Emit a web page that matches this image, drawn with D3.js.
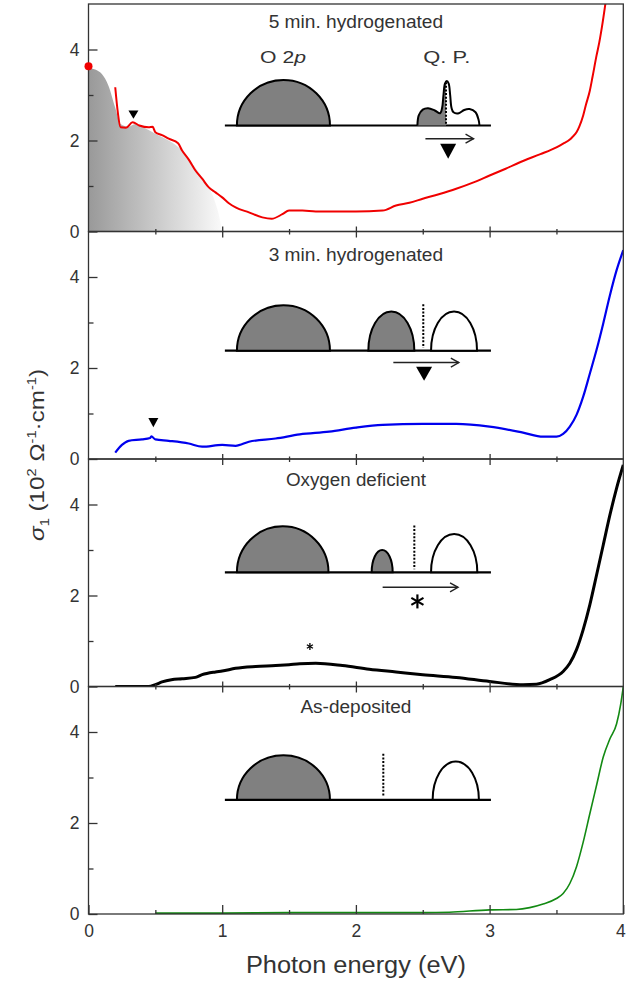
<!DOCTYPE html>
<html><head><meta charset="utf-8">
<script src="https://cdn.jsdelivr.net/npm/d3@7"></script>
<style>body{margin:0;background:#fff}svg{display:block}</style>
</head><body><svg id="c" width="626" height="983"></svg>
<script>
// ---------------- data ----------------
const panelTitles = ["5 min. hydrogenated", "3 min. hydrogenated", "Oxygen deficient", "As-deposited"];
const xTickLabels = [0, 1, 2, 3, 4];
const yTickLabels = [0, 2, 4];

const energy5min = [0.20,0.22,0.24,0.28,0.33,0.38,0.45,0.48,0.50,0.55,0.60,0.67,0.70,0.75,0.80,0.85,0.90,0.95,1.00,1.05,1.10,1.20,1.30,1.37,1.45,1.50,1.60,1.70,1.80,2.00,2.20,2.30,2.40,2.50,2.62,2.75,2.88,3.00,3.12,3.25,3.38,3.50,3.55,3.60,3.62,3.65,3.67,3.70,3.72,3.75,3.77,3.80,3.82,3.84,3.88];
const sigma5min  = [3.17,2.60,2.29,2.28,2.40,2.33,2.29,2.30,2.18,2.12,2.04,1.94,1.78,1.58,1.34,1.16,0.97,0.86,0.75,0.62,0.53,0.42,0.31,0.28,0.38,0.46,0.46,0.44,0.44,0.44,0.46,0.57,0.63,0.72,0.82,0.94,1.08,1.23,1.38,1.55,1.70,1.85,1.93,2.02,2.08,2.18,2.30,2.55,2.78,3.10,3.40,3.87,4.15,4.49,5.30];

const energyDrude = [0.00,0.05,0.10,0.15,0.20,0.24,0.30,0.35,0.40,0.50,0.60,0.70,0.80,0.85,0.90,0.95,0.98,1.00];
const sigmaDrude  = [3.60,3.56,3.46,3.20,2.72,2.36,2.30,2.36,2.30,2.15,2.00,1.78,1.40,1.20,0.97,0.62,0.30,0.00];
const drudeStart = [0.00, 3.63];

const energy3min = [0.20,0.25,0.30,0.40,0.46,0.47,0.50,0.60,0.75,0.85,1.00,1.10,1.20,1.40,1.58,1.80,2.00,2.20,2.50,2.75,3.00,3.25,3.40,3.50,3.55,3.60,3.65,3.70,3.75,3.80,3.85,3.90,3.95,4.00];
const sigma3min  = [0.14,0.31,0.40,0.43,0.46,0.50,0.43,0.40,0.34,0.27,0.31,0.29,0.38,0.45,0.54,0.60,0.69,0.75,0.77,0.77,0.71,0.58,0.49,0.49,0.55,0.71,0.97,1.37,1.88,2.40,2.98,3.60,4.15,4.59];

const energyOxy = [0.20,0.45,0.50,0.55,0.62,0.70,0.80,0.85,0.95,1.00,1.10,1.25,1.40,1.50,1.58,1.70,1.90,2.10,2.30,2.50,2.75,3.00,3.25,3.35,3.45,3.55,3.60,3.65,3.70,3.75,3.80,3.85,3.90,3.95,4.00];
const sigmaOxy  = [0.00,0.00,0.04,0.10,0.15,0.17,0.20,0.26,0.32,0.34,0.40,0.44,0.46,0.48,0.50,0.51,0.46,0.38,0.32,0.26,0.20,0.11,0.04,0.05,0.15,0.33,0.51,0.81,1.25,1.80,2.45,3.11,3.77,4.36,4.87];

const energyAsDep = [0.50,1.00,1.50,2.00,2.50,2.70,3.00,3.20,3.30,3.40,3.50,3.55,3.60,3.65,3.70,3.75,3.80,3.85,3.90,3.95,3.98,4.00];
const sigmaAsDep  = [0.02,0.02,0.03,0.03,0.03,0.04,0.09,0.10,0.14,0.22,0.34,0.45,0.67,1.04,1.58,2.21,2.83,3.45,3.85,4.18,4.60,5.00];

const seriesColors = ["#f00000", "#0000ee", "#000000", "#138a13"];
const seriesWidths = [2, 2.2, 3, 1.6];

// ---------------- layout ----------------
const W = 626, H = 983;
const left = 88.5, right = 623.3;
const panelTops = [4, 231.5, 459, 686.5];
const panelH = 227.5;
const font = "'Liberation Sans', Arial, sans-serif";
const txt = "#333";

const svg = d3.select("#c");
svg.append("rect").attr("width", W).attr("height", H).attr("fill", "#fff");
const defs = svg.append("defs");
const grad = defs.append("linearGradient").attr("id", "drudeGrad").attr("x1", "0%").attr("x2", "100%").attr("y1", "0%").attr("y2", "0%");
grad.append("stop").attr("offset", "0%").attr("stop-color", "#999");
grad.append("stop").attr("offset", "100%").attr("stop-color", "#fafafa");

const x = d3.scaleLinear().domain([0, 4]).range([left, right]);

const seriesE = [energy5min, energy3min, energyOxy, energyAsDep];
const seriesS = [sigma5min, sigma3min, sigmaOxy, sigmaAsDep];

// inset schematic specs (in data units)
const insets = [
  {base: 2.33, bumps: [{x0:1.11,x1:1.806,top:3.33,fill:"#808080"}], dotted:null, arrow:{y:2.04,x0:2.52,x1:2.88}, tri:{x:2.69,top:1.93,bot:1.60}, star:null, qp:true},
  {base: 2.38, bumps: [{x0:1.11,x1:1.806,top:3.38,fill:"#808080"},{x0:2.093,x1:2.437,top:3.24,fill:"#808080"},{x0:2.562,x1:2.906,top:3.24,fill:"#fff"}], dotted:{x:2.504,top:3.40}, arrow:{y:2.12,x0:2.28,x1:2.77}, tri:{x:2.51,top:2.03,bot:1.72}, star:null},
  {base: 2.51, bumps: [{x0:1.11,x1:1.795,top:3.52,fill:"#808080"},{x0:2.118,x1:2.275,top:3.0,fill:"#808080"},{x0:2.562,x1:2.908,top:3.35,fill:"#fff"}], dotted:{x:2.437,top:3.54}, arrow:{y:2.18,x0:2.20,x1:2.764}, tri:null, star:{x:2.46,y:1.87,r:7}},
  {base: 2.51, bumps: [{x0:1.11,x1:1.806,top:3.49,fill:"#808080"},{x0:2.574,x1:2.92,top:3.35,fill:"#fff"}], dotted:{x:2.205,top:3.52}, arrow:null, tri:null, star:null}
];
const qpOutline = [[2.46,2.33],[2.47,2.55],[2.50,2.68],[2.54,2.71],[2.59,2.66],[2.63,2.60],[2.645,2.72],[2.655,3.00],[2.666,3.25],[2.68,3.31],[2.694,3.25],[2.705,3.00],[2.715,2.72],[2.73,2.62],[2.77,2.60],[2.81,2.67],[2.85,2.69],[2.895,2.62],[2.918,2.45],[2.924,2.33]];
const qpSplit = 2.674;
const smallTris = [{panel:0,x:0.336,top:2.66,bot:2.48},{panel:1,x:0.485,top:0.90,bot:0.70}];
const smallStar = {panel:2, x:1.656, y:0.88, r:3.5};

function drawStar(g, cx, cy, r, w) {
  [90, 30, 150].forEach(a => {
    const rad = a * Math.PI / 180;
    g.append("line").attr("x1", cx - r*Math.cos(rad)).attr("y1", cy - r*Math.sin(rad))
      .attr("x2", cx + r*Math.cos(rad)).attr("y2", cy + r*Math.sin(rad))
      .attr("stroke", "#000").attr("stroke-width", w);
  });
}

panelTops.forEach((top, i) => {
  const bottom = top + panelH;
  const y = d3.scaleLinear().domain([0, 5]).range([bottom, top]);
  const g = svg.append("g");
  defs.append("clipPath").attr("id", "clip" + i).append("rect")
    .attr("x", left).attr("y", top).attr("width", right - left).attr("height", panelH);
  const plot = g.append("g").attr("clip-path", `url(#clip${i})`);

  if (i === 0) {
    const area = d3.area().x((d, k) => x(energyDrude[k])).y0(y(0)).y1((d, k) => y(sigmaDrude[k])).curve(d3.curveMonotoneX);
    plot.append("path").datum(sigmaDrude).attr("d", area).attr("fill", "url(#drudeGrad)");
  }

  // inset schematic
  const ins = insets[i];
  const ig = g.append("g");
  ig.append("line").attr("x1", x(1.02)).attr("x2", x(3.01)).attr("y1", y(ins.base)).attr("y2", y(ins.base))
    .attr("stroke", "#000").attr("stroke-width", 2.2);
  ins.bumps.forEach(b => {
    const rx = (x(b.x1) - x(b.x0)) / 2, ry = y(ins.base) - y(b.top);
    ig.append("path").attr("d", `M${x(b.x0)},${y(ins.base)} A${rx},${ry} 0 0 1 ${x(b.x1)},${y(ins.base)} Z`)
      .attr("fill", b.fill).attr("stroke", "#000").attr("stroke-width", 2);
  });
  if (ins.qp) {
    defs.append("clipPath").attr("id", "qpclip").append("rect")
      .attr("x", 0).attr("y", 0).attr("width", x(qpSplit)).attr("height", H);
    const qline = d3.line().x(d => x(d[0])).y(d => y(d[1])).curve(d3.curveCatmullRom.alpha(0.5));
    ig.append("path").datum(qpOutline).attr("d", d => qline(d) + "Z").attr("fill", "#808080").attr("clip-path", "url(#qpclip)");
    ig.append("path").datum(qpOutline).attr("d", qline).attr("fill", "none").attr("stroke", "#000").attr("stroke-width", 2);
    ig.append("line").attr("x1", x(qpSplit)).attr("x2", x(qpSplit)).attr("y1", y(3.28)).attr("y2", y(ins.base))
      .attr("stroke", "#000").attr("stroke-width", 2).attr("stroke-dasharray", "2,1.6");
    ig.append("text").attr("x", x(1.455)).attr("y", y(3.71)).attr("text-anchor", "middle")
      .attr("font-family", font).attr("font-size", 17).attr("fill", txt)
      .attr("textLength", 46).attr("lengthAdjust", "spacingAndGlyphs")
      .call(t => { t.append("tspan").text("O 2"); t.append("tspan").attr("font-style", "italic").text("p"); });
    ig.append("text").attr("x", x(2.68)).attr("y", y(3.71)).attr("text-anchor", "middle")
      .attr("font-family", font).attr("font-size", 17).attr("fill", txt)
      .attr("textLength", 47).attr("lengthAdjust", "spacingAndGlyphs").text("Q. P.");
  }
  if (ins.dotted) {
    ig.append("line").attr("x1", x(ins.dotted.x)).attr("x2", x(ins.dotted.x)).attr("y1", y(ins.dotted.top)).attr("y2", y(ins.base) - 3)
      .attr("stroke", "#000").attr("stroke-width", 2).attr("stroke-dasharray", "2,1.6");
  }
  if (ins.arrow) {
    const a = ins.arrow, ay = y(a.y), ax1 = x(a.x1);
    ig.append("line").attr("x1", x(a.x0)).attr("x2", ax1).attr("y1", ay).attr("y2", ay).attr("stroke", "#222").attr("stroke-width", 1.4);
    ig.append("path").attr("d", `M${ax1-8},${ay-4.5} L${ax1},${ay} L${ax1-8},${ay+4.5}`)
      .attr("fill", "none").attr("stroke", "#222").attr("stroke-width", 1.4);
  }
  if (ins.tri) {
    const t = ins.tri;
    ig.append("path").attr("d", `M${x(t.x)-8},${y(t.top)} L${x(t.x)+8},${y(t.top)} L${x(t.x)},${y(t.bot)} Z`).attr("fill", "#000");
  }
  if (ins.star) drawStar(ig, x(ins.star.x), y(ins.star.y), ins.star.r, 2.2);

  smallTris.filter(t => t.panel === i).forEach(t => {
    g.append("path").attr("d", `M${x(t.x)-5},${y(t.top)} L${x(t.x)+5},${y(t.top)} L${x(t.x)},${y(t.bot)} Z`).attr("fill", "#000");
  });
  if (smallStar.panel === i) drawStar(g, x(smallStar.x), y(smallStar.y), smallStar.r, 1.3);

  // data curve
  const E = seriesE[i], S = seriesS[i];
  const line = d3.line().x((d, k) => x(E[k])).y((d, k) => y(S[k])).curve(d3.curveMonotoneX);
  plot.append("path").datum(S).attr("d", line).attr("fill", "none")
    .attr("stroke", seriesColors[i]).attr("stroke-width", seriesWidths[i]).attr("stroke-linejoin", "round");

  // title
  const titleBase = [27.7, 260.7, 485.7, 713.3][i];
  const titleLen = [174.5, 174.5, 140, 111][i];
  g.append("text").attr("x", x(2)).attr("y", titleBase).attr("text-anchor", "middle")
    .attr("font-family", font).attr("font-size", 17.5).attr("fill", txt)
    .attr("textLength", titleLen).attr("lengthAdjust", "spacingAndGlyphs").text(panelTitles[i]);

  // y axes
  g.append("g").attr("transform", `translate(${left},0)`)
    .call(d3.axisLeft(y).tickValues(yTickLabels).tickSize(-9).tickPadding(9).tickFormat(d3.format("d")));
  g.append("g").attr("transform", `translate(${left},0)`)
    .call(d3.axisLeft(y).tickValues([1, 3]).tickSize(-5).tickFormat(""));
  // x ticks
  const xa1 = g.append("g").attr("transform", `translate(0,${bottom})`);
  const xm1 = g.append("g").attr("transform", `translate(0,${bottom})`);
  if (i === 3) {
    xa1.call(d3.axisBottom(x).tickValues(xTickLabels).tickSize(-9).tickPadding(11).tickFormat(d3.format("d")));
    xm1.call(d3.axisBottom(x).tickValues([0.5, 1.5, 2.5, 3.5]).tickSize(-4).tickFormat(""));
    // keep the last label inside the page
    xa1.selectAll(".tick text").filter(d => d === 4).attr("text-anchor", "end").attr("dx", 2);
  } else {
    xa1.call(d3.axisBottom(x).tickValues([1, 2, 3]).tickSize(-5).tickFormat(""));
    xm1.call(d3.axisBottom(x).tickValues([0.5, 1.5, 2.5, 3.5]).tickSize(-2.5).tickFormat(""));
    g.append("g").attr("transform", `translate(0,${bottom})`)
      .call(d3.axisBottom(x).tickValues([1, 2, 3]).tickSize(6).tickFormat(""));
    g.append("g").attr("transform", `translate(0,${bottom})`)
      .call(d3.axisBottom(x).tickValues([0.5, 1.5, 2.5, 3.5]).tickSize(3).tickFormat(""));
  }
  g.selectAll(".domain").remove();
  g.selectAll(".tick line").attr("stroke", "#333").attr("stroke-width", 1.3);
  g.selectAll(".tick text").attr("font-family", font).attr("font-size", 17.5).attr("fill", txt);

  // frame
  g.append("rect").attr("x", left).attr("y", top).attr("width", right - left).attr("height", panelH)
    .attr("fill", "none").attr("stroke", "#333").attr("stroke-width", 1.3);

  if (i === 0) {
    g.append("circle").attr("cx", x(drudeStart[0])).attr("cy", y(drudeStart[1])).attr("r", 4).attr("fill", "#f00000");
  }
});

// axis titles
svg.append("text").attr("x", x(2)).attr("y", 973).attr("text-anchor", "middle")
  .attr("font-family", font).attr("font-size", 23).attr("fill", txt)
  .attr("textLength", 220).attr("lengthAdjust", "spacingAndGlyphs").text("Photon energy (eV)");

const yt = svg.append("text").attr("transform", "translate(44,455) rotate(-90)").attr("text-anchor", "middle")
  .attr("font-family", font).attr("font-size", 20).attr("fill", txt)
  .attr("textLength", 172).attr("lengthAdjust", "spacingAndGlyphs");
yt.append("tspan").attr("font-style", "italic").text("σ");
yt.append("tspan").attr("font-size", 12).attr("dy", 5).text("1");
yt.append("tspan").attr("dy", -5).text(" (10");
yt.append("tspan").attr("font-size", 12).attr("dy", -8).text("2");
yt.append("tspan").attr("dy", 8).text(" Ω");
yt.append("tspan").attr("font-size", 12).attr("dy", -8).text("-1");
yt.append("tspan").attr("dy", 8).text("·cm");
yt.append("tspan").attr("font-size", 12).attr("dy", -8).text("-1");
yt.append("tspan").attr("dy", 8).text(")");
</script></body></html>
